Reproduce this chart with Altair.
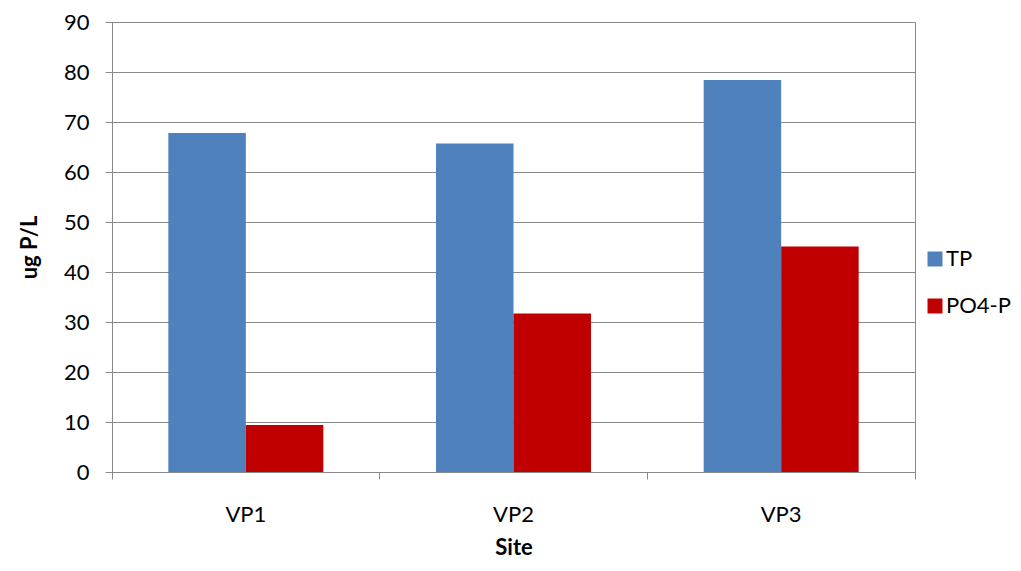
import altair as alt
import pandas as pd

# Phosphorus concentrations per site
sites = ["VP1", "VP2", "VP3"]
series = ["TP", "PO4-P"]
tp_values = [67.8, 65.7, 78.4]
po4_values = [9.4, 31.7, 45.1]
colors = ["#4F81BD", "#C00000"]

rows = []
for i, s in enumerate(sites):
    rows.append({"Site": s, "Series": "TP", "Value": tp_values[i]})
    rows.append({"Site": s, "Series": "PO4-P", "Value": po4_values[i]})
df = pd.DataFrame(rows)

FONT = "Lato"
GRID = "#898989"

chart = (
    alt.Chart(df)
    .mark_bar()
    .encode(
        x=alt.X(
            "Site:N",
            sort=sites,
            scale=alt.Scale(paddingInner=0, paddingOuter=0),
            axis=alt.Axis(
                title="Site",
                labelAngle=0,
                bandPosition=1,
                tickExtra=True,
                tickSize=7,
                tickColor=GRID,
                domainColor=GRID,
                labelFontSize=22,
                labelPadding=25,
                labelColor="black",
                titleFontSize=22,
                titleFontWeight="bold",
                titlePadding=12,
                titleColor="black",
                grid=False,
            ),
        ),
        xOffset=alt.XOffset(
            "Series:N",
            sort=series,
            scale=alt.Scale(paddingInner=0, paddingOuter=0.727),
        ),
        y=alt.Y(
            "Value:Q",
            scale=alt.Scale(domain=[0, 90]),
            axis=alt.Axis(
                title="ug P/L",
                values=list(range(0, 91, 10)),
                tickSize=7,
                tickColor=GRID,
                domainColor=GRID,
                gridColor=GRID,
                labelFontSize=22,
                labelPadding=16,
                labelColor="black",
                titleFontSize=22,
                titleFontWeight="bold",
                titlePadding=22,
                titleColor="black",
            ),
        ),
        color=alt.Color(
            "Series:N",
            sort=series,
            scale=alt.Scale(domain=series, range=colors),
            legend=alt.Legend(
                title=None,
                orient="none",
                legendX=812,
                legendY=226,
                symbolType="square",
                symbolSize=225,
                symbolStrokeWidth=0,
                labelFontSize=22,
                labelColor="black",
                rowPadding=25,
                labelOffset=0,
            ),
        ),
    )
    .properties(
        width=803,
        height=450,
        autosize=alt.AutoSizeParams(type="none"),
        padding={"left": 112, "top": 22, "right": 106, "bottom": 99},
    )
    .configure(font=FONT, background="white")
    .configure_view(stroke=GRID, strokeWidth=1)
)

chart.save("out.html", embed_options={"renderer": "svg", "actions": False})
